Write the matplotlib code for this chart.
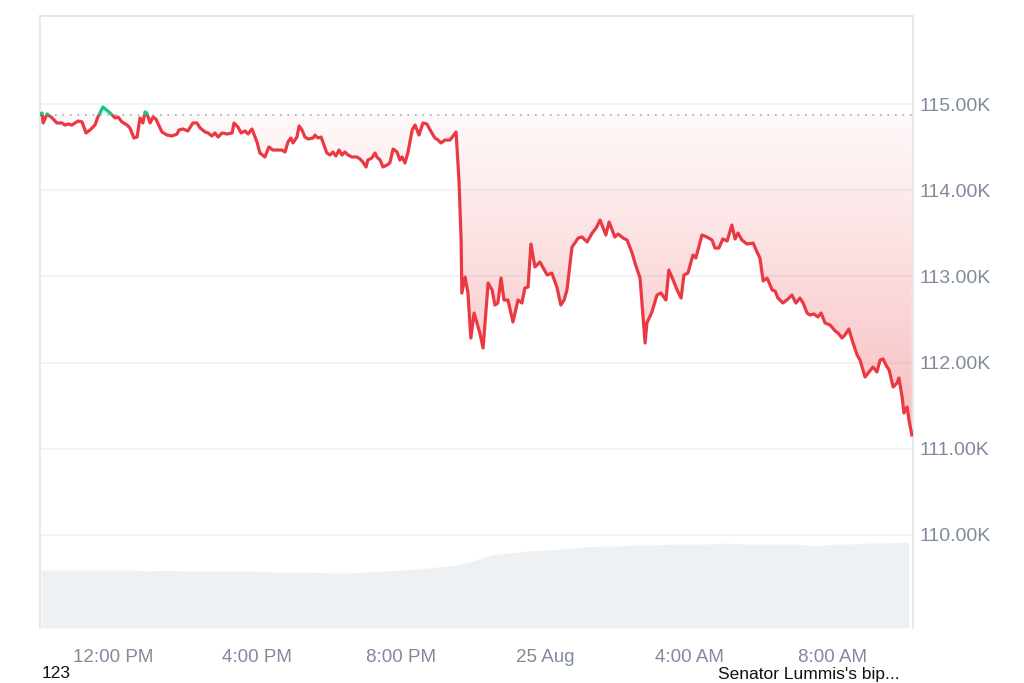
import numpy as np
import matplotlib
matplotlib.use("Agg")
import matplotlib.pyplot as plt
from matplotlib.patches import Rectangle
from matplotlib.path import Path

# ---------------- data ----------------
# hours since 10:00 AM (24 Aug)
hours = [-0.03, 0.03, 0.06, 0.17, 0.31, 0.44, 0.58, 0.67, 0.75, 0.86, 1.03, 1.14, 1.25, 1.36, 1.50, 1.58,
         1.72, 1.92, 2.06, 2.14, 2.25, 2.39, 2.47, 2.58, 2.67, 2.75, 2.83, 2.89, 2.94, 3.03, 3.11, 3.19,
         3.36, 3.50, 3.64, 3.78, 3.83, 3.94, 4.08, 4.22, 4.33, 4.42, 4.56, 4.64, 4.75, 4.83, 4.92, 5.03,
         5.17, 5.31, 5.36, 5.47, 5.56, 5.67, 5.75, 5.86, 6.00, 6.08, 6.22, 6.33, 6.44, 6.56, 6.69, 6.78,
         6.86, 6.94, 7.00, 7.11, 7.17, 7.25, 7.33, 7.42, 7.56, 7.61, 7.69, 7.78, 7.86, 7.94, 8.03, 8.11,
         8.19, 8.28, 8.36, 8.44, 8.53, 8.64, 8.78, 8.86, 8.94, 9.03, 9.08, 9.19, 9.28, 9.33, 9.42, 9.50,
         9.61, 9.69, 9.78, 9.89, 9.97, 10.03, 10.11, 10.19, 10.31, 10.39, 10.50, 10.61, 10.72, 10.81, 10.94,
         11.03, 11.11, 11.22, 11.36, 11.53, 11.61, 11.67, 11.69, 11.78, 11.86, 11.94, 12.03, 12.19, 12.28,
         12.42, 12.53, 12.61, 12.69, 12.78, 12.86, 12.97, 13.11, 13.25, 13.36, 13.44, 13.53, 13.61, 13.72,
         13.86, 14.06, 14.19, 14.33, 14.44, 14.53, 14.61, 14.75, 14.83, 14.92, 15.03, 15.17, 15.31, 15.42,
         15.53, 15.69, 15.78, 15.94, 16.03, 16.17, 16.28, 16.42, 16.50, 16.64, 16.78, 16.83, 16.97, 17.11,
         17.22, 17.36, 17.44, 17.56, 17.67, 17.78, 17.86, 17.97, 18.11, 18.19, 18.36, 18.50, 18.64, 18.72,
         18.83, 18.94, 19.06, 19.19, 19.28, 19.36, 19.47, 19.61, 19.78, 19.89, 19.97, 20.06, 20.17, 20.31,
         20.39, 20.47, 20.61, 20.75, 20.86, 20.97, 21.08, 21.17, 21.28, 21.36, 21.47, 21.58, 21.67, 21.78,
         21.92, 22.06, 22.14, 22.25, 22.33, 22.44, 22.53, 22.67, 22.75, 22.89, 23.00, 23.11, 23.22, 23.31,
         23.39, 23.50, 23.56, 23.67, 23.78, 23.83, 23.92, 23.97, 24.06, 24.11, 24.19]

prices = [114880, 114896, 114780, 114885, 114838, 114780, 114780, 114756, 114768, 114756, 114803, 114791,
          114664, 114698, 114756, 114849, 114965, 114896, 114838, 114849, 114791, 114756, 114722, 114606,
          114617, 114838, 114780, 114907, 114896, 114780, 114849, 114826, 114675, 114640, 114629, 114652,
          114698, 114710, 114687, 114780, 114780, 114722, 114675, 114664, 114629, 114664, 114617, 114664,
          114652, 114664, 114780, 114733, 114664, 114687, 114652, 114710, 114559, 114432, 114385, 114501,
          114466, 114466, 114466, 114443, 114559, 114606, 114548, 114617, 114745, 114698, 114617, 114594,
          114606, 114640, 114606, 114617, 114524, 114432, 114408, 114443, 114397, 114466, 114408, 114443,
          114408, 114385, 114385, 114362, 114327, 114269, 114350, 114374, 114432, 114385, 114350, 114269,
          114292, 114316, 114478, 114443, 114350, 114385, 114316, 114432, 114698, 114756, 114640, 114780,
          114768, 114698, 114606, 114582, 114548, 114582, 114582, 114675, 114118, 113422, 112807, 112993,
          112807, 112285, 112575, 112343, 112169, 112923, 112842, 112668, 112691, 112981, 112726, 112726,
          112471, 112726, 112691, 112865, 112877, 113375, 113109, 113167, 113016, 113039, 112877, 112668,
          112726, 112842, 113341, 113387, 113445, 113457, 113399, 113503, 113561, 113654, 113480, 113631,
          113457, 113492, 113445, 113422, 113271, 113155, 112981, 112227, 112459, 112587, 112784, 112807,
          112726, 113074, 112958, 112842, 112749, 113016, 113039, 113248, 113213, 113480, 113457, 113422,
          113329, 113329, 113434, 113411, 113596, 113434, 113503, 113422, 113375, 113387, 113283, 113213,
          112947, 112981, 112842, 112831, 112749, 112691, 112738, 112784, 112691, 112749, 112691, 112575,
          112552, 112564, 112529, 112575, 112459, 112436, 112367, 112343, 112285, 112320, 112390, 112262,
          112088, 112030, 111833, 111891, 111949, 111891, 112030, 112042, 111949, 111914, 111717, 111763,
          111821, 111601, 111415, 111485, 111334, 111160]

open_price = 114875

# 24h volume (billions USD), half-hour samples
vol_hours = [0.0, 0.5, 1.0, 1.5, 2.0, 2.5, 3.0, 3.5, 4.0, 4.5, 5.0, 5.5, 6.0, 6.5, 7.0, 7.5, 8.0, 8.5,
             9.0, 9.5, 10.0, 10.5, 11.0, 11.5, 12.0, 12.5, 13.0, 13.5, 14.0, 14.5, 15.0, 15.5, 16.0, 16.5,
             17.0, 17.5, 18.0, 18.5, 19.0, 19.5, 20.0, 20.5, 21.0, 21.5, 22.0, 22.5, 23.0, 23.5, 24.1]
volumes = [29.0, 29.0, 29.0, 29.0, 29.0, 29.0, 28.5, 29.0, 28.5, 28.5, 28.5, 28.5, 28.5, 28.0, 28.0, 28.0,
           27.5, 27.5, 28.0, 28.5, 29.0, 29.5, 30.5, 31.5, 33.5, 36.5, 37.5, 38.5, 39.0, 39.5, 40.5, 41.0,
           41.0, 41.5, 41.5, 42.0, 42.0, 42.0, 42.5, 42.0, 42.0, 42.0, 42.0, 41.0, 42.0, 42.0, 42.5, 42.5,
           43.0]

y_ticks = [110000, 111000, 112000, 113000, 114000, 115000]
y_labels = ["110.00K", "111.00K", "112.00K", "113.00K", "114.00K", "115.00K"]
x_ticks = [2, 6, 10, 14, 18, 22]
x_labels = ["12:00 PM", "4:00 PM", "8:00 PM", "25 Aug", "4:00 AM", "8:00 AM"]

# ---------------- style ----------------
RED = "#ea3943"
GREEN = "#16c784"
GRAY_TXT = "#808a9d"
GRID = "#eff2f5"
FRAME = "#e6e8ec"
plt.rcParams["font.family"] = ["Liberation Sans", "DejaVu Sans"]

fig = plt.figure(figsize=(10.24, 6.83), dpi=100)
left, right = 40 / 1024, 913 / 1024
bottom, top = 1 - 628 / 683, 1 - 16 / 683
pos = [left, bottom, right - left, top - bottom]

xmin, xmax = -1 / 36, 872 / 36
ymin, ymax = 108921, 116021

# volume axes (behind)
axv = fig.add_axes(pos)
axv.fill_between(vol_hours, volumes, 0, color="#eef1f4", linewidth=0)
axv.set_xlim(xmin, xmax)
axv.set_ylim(0, 306)
axv.axis("off")

ax = fig.add_axes(pos)
ax.patch.set_alpha(0)
ax.set_xlim(xmin, xmax)
ax.set_ylim(ymin, ymax)

t = np.array(hours)
p = np.array(prices)

# gridlines
for yt in y_ticks:
    ax.axhline(yt, color=GRID, lw=1.2, zorder=0)

# gradient fill below baseline (red)
poly_red = ax.fill_between(t, p, open_price, where=p <= open_price, interpolate=True,
                           color="none", linewidth=0)
pmin = p.min()
grad = np.linspace(0, 1, 256).reshape(-1, 1)
rgba = np.zeros((256, 1, 4))
rgba[..., 0], rgba[..., 1], rgba[..., 2] = 0xea / 255, 0x39 / 255, 0x43 / 255
rgba[..., 3] = 0.03 + 0.30 * grad
im = ax.imshow(rgba, extent=[xmin, xmax, pmin, open_price], origin="upper", aspect="auto",
               zorder=1, interpolation="bilinear")
paths = poly_red.get_paths()
if paths:
    im.set_clip_path(Path.make_compound_path(*paths), transform=ax.transData)

# green fill above baseline
ax.fill_between(t, p, open_price, where=p >= open_price, interpolate=True,
                color=GREEN, alpha=0.12, linewidth=0, zorder=1)

# baseline dotted
ax.axhline(open_price, color="#a6acb6", lw=1.2, linestyle=(0, (1, 3.5)), zorder=2)

# price line, red below and green above baseline
l_red, = ax.plot(t, p, color=RED, lw=2.3, zorder=3, solid_joinstyle="round")
l_red.set_clip_path(Rectangle((xmin, ymin), xmax - xmin, open_price - ymin, transform=ax.transData))
l_grn, = ax.plot(t, p, color=GREEN, lw=2.3, zorder=3, solid_joinstyle="round")
l_grn.set_clip_path(Rectangle((xmin, open_price), xmax - xmin, ymax - open_price, transform=ax.transData))

# spines
for s in ["top", "left", "right"]:
    ax.spines[s].set_color(FRAME)
    ax.spines[s].set_linewidth(1.5)
ax.spines["bottom"].set_visible(False)

ax.yaxis.tick_right()
ax.set_yticks(y_ticks)
ax.set_yticklabels(y_labels)
ax.set_xticks(x_ticks)
ax.set_xticklabels(x_labels)
ax.tick_params(axis="both", length=0, labelcolor=GRAY_TXT)
ax.tick_params(axis="y", pad=5, labelsize=14)
ax.tick_params(axis="x", pad=15, labelsize=13.5)

fig.text(42 / 1024, 1 - 674 / 683, "123", fontsize=12.5, color="#111111", ha="left", va="center")
fig.text(900 / 1024, 1 - 674 / 683, "Senator Lummis's bip...", fontsize=12.5, color="#111111",
         ha="right", va="center")

fig.savefig("out.png", dpi=100)
